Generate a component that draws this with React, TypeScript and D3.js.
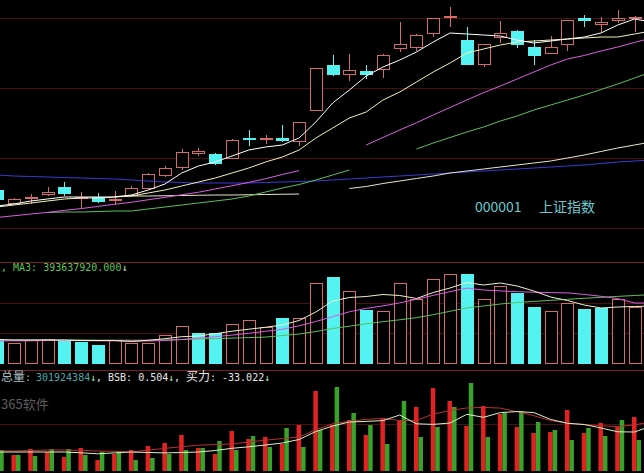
import React from "react";
import * as d3 from "d3";

const WIDTH = 644;
const HEIGHT = 473;

// Daily candles of 上证指数 (index points)
const opens = [2080, 1976, 2016, 2048, 2104, 2020, 2024, 2004, 2040, 2096, 2200, 2264, 2376, 2368, 2336, 2500, 2492, 2500, 2472, 2720, 3084, 3008, 3032, 3048, 3212, 3228, 3340, 3468, 3280, 3088, 3308, 3356, 3220, 3172, 3252, 3452, 3404, 3436, 3452];
const highs = [2096, 2016, 2048, 2104, 2144, 2064, 2056, 2072, 2112, 2216, 2268, 2408, 2416, 2380, 2488, 2560, 2520, 2600, 2628, 3060, 3160, 3168, 3080, 3164, 3424, 3328, 3456, 3544, 3384, 3252, 3432, 3364, 3284, 3312, 3440, 3484, 3460, 3520, 3468];
const lows = [1984, 1968, 1968, 2032, 2032, 1936, 1976, 1960, 2032, 2088, 2184, 2240, 2352, 2276, 2332, 2432, 2448, 2464, 2432, 2716, 2992, 2952, 2968, 2976, 3184, 3192, 3304, 3384, 3080, 3064, 3256, 3216, 3084, 3168, 3192, 3384, 3336, 3416, 3344];
const closes = [2000, 2008, 2024, 2064, 2048, 2028, 1984, 2012, 2100, 2208, 2256, 2384, 2392, 2288, 2484, 2480, 2496, 2472, 2624, 3056, 3000, 3044, 3004, 3160, 3248, 3324, 3452, 3476, 3084, 3248, 3340, 3244, 3148, 3228, 3436, 3428, 3420, 3452, 3464];

// Moving averages of the index (null where the line is not drawn)
const ma5 = [1952, 1968, 1992, 2008, 2024, 2024, 2024, 2024, 2040, 2080, 2128, 2216, 2272, 2304, 2352, 2400, 2424, 2440, 2496, 2624, 2776, 2880, 2992, 3064, 3120, 3184, 3264, 3336, 3328, 3320, 3312, 3280, 3256, 3272, 3288, 3304, 3336, 3400, 3448, 3424];
const ma10 = [1944, 1960, 1976, 1992, 2008, 2016, 2016, 2024, 2032, 2056, 2080, 2112, 2144, 2176, 2216, 2256, 2304, 2344, 2400, 2496, 2576, 2656, 2704, 2800, 2864, 2944, 3024, 3096, 3176, 3208, 3240, 3264, 3272, 3280, 3288, 3296, 3304, 3304, 3328, 3352];
const ma20 = [1860, 1874, 1888, 1901, 1917, 1931, 1949, 1966, 1982, 2002, 2021, 2042, 2062, 2088, 2114, 2141, 2170, 2204, 2235, null, null, null, 2440, 2500, 2560, 2618, 2680, 2740, 2800, 2859, 2912, 2968, 3024, 3080, 3128, 3156, 3192, 3224, 3260, 3296];
const ma30 = [null, null, null, 1900, 1904, 1904, 1908, 1912, 1912, 1928, 1944, 1960, 1976, 1992, 2008, 2032, 2064, 2096, 2124, 2160, 2200, 2240, null, null, null, 2408, 2456, 2500, 2544, 2584, 2632, 2672, 2720, 2760, 2800, 2840, 2884, 2928, 2976, 3024];
const ma60 = [null, null, null, null, null, null, null, 2028, 2032, 2032, 2034, 2036, 2038, 2040, 2040, 2042, 2044, 2046, 2048, null, null, 2092, 2108, 2132, 2152, 2172, 2192, 2216, 2232, 2248, 2264, 2280, 2296, 2312, 2336, 2360, 2388, 2416, 2440, 2464];
const ma120 = [2200, 2192, 2188, 2184, 2180, 2176, 2172, 2168, 2160, 2152, 2144, 2140, 2136, 2136, 2136, 2136, 2140, 2144, 2148, 2152, 2160, 2168, 2176, 2184, 2192, 2200, 2208, 2216, 2224, 2232, 2240, 2248, 2256, 2264, 2272, 2280, 2292, 2304, 2312, 2320];

// Turnover (million shares) and whether the bar is drawn as a rising day
const volumes = [247, 207, 240, 247, 233, 223, 190, 240, 213, 213, 290, 380, 313, 307, 400, 440, 373, 463, 457, 807, 873, 730, 540, 533, 813, 647, 850, 900, 897, 650, 783, 707, 573, 533, 613, 547, 557, 647, 567];
const volumeUp = [0, 1, 1, 1, 0, 0, 0, 1, 1, 1, 1, 1, 0, 0, 1, 1, 1, 0, 1, 1, 0, 1, 0, 1, 1, 1, 1, 1, 0, 1, 1, 0, 0, 1, 1, 0, 0, 1, 1];
const volMa5 = [245, 240, 240, 240, 240, 235, 235, 235, 225, 237, 253, 273, 280, 303, 328, 348, 367, 390, 435, 520, 630, 665, 675, 695, 685, 655, 715, 760, 815, 790, 810, 780, 730, 670, 635, 590, 560, 570, 575, 580];
const volMa10 = [230, 232, 232, 235, 235, 233, 232, 232, 230, 230, 235, 245, 260, 273, 289, 307, 327, 347, 382, 425, 473, 522, 556, 581, 611, 647, 686, 723, 759, 740, 731, 723, 718, 714, 711, 696, 677, 654, 610, 610];
const volMa20 = [240, 240, 240, 240, 240, 240, 238, 238, 238, 238, 240, 245, 250, 254, 259, 264, 269, 284, 300, 325, 355, 378, 402, 423, 442, 463, 493, 527, 561, 580, 600, 615, 626, 637, 647, 657, 667, 676, 685, 694];

// Buy / sell strength indicator
const buyBars = [18, 16, 22, 19, 14, 23, 11, 17, 21, 25, 28, 36, 23, 17, 40, 32, 34, 27, 46, 80, 46, 51, 36, 53, 50, 64, 83, 70, 45, 65, 57, 44, 38, 39, 61, 38, 48, 44, 54];
const sellBars = [21, 16, 15, 22, 22, 16, 19, 20, 11, 13, 17, 21, 23, 30, 21, 35, 24, 43, 24, 41, 84, 58, 46, 27, 70, 34, 44, 64, 88, 34, 58, 60, 49, 41, 31, 43, 35, 51, 31];
const buyLine = [20, 20, 20.5, 21, 21, 20.6, 20, 19.6, 19, 21, 22.6, 24.3, 25.8, 26.5, 27, 29, 30.8, 32.4, 34, 41.3, 47.2, 49.7, 51.6, 52.6, 50.5, 50.6, 56.9, 60.5, 63, 63.6, 62.9, 59.3, 55.3, 50.4, 48, 46.4, 45.3, 44.3, 46.2, 49];
const sellLine = [19, 19, 19, 19, 19, 18.2, 17.2, 18.1, 19, 18.5, 18.1, 18.5, 19, 20.5, 22.7, 24.2, 26, 28, 31.5, 39.5, 45, 49, 49.6, 50.4, 56, 47.2, 46.6, 48, 56.7, 53.7, 58.4, 59.4, 58.4, 51.6, 47.7, 46.5, 43, 39.2, 39, 45];

// Grid levels in each pane
const priceGrid = [3456, 2896, 2336, 1776];
const volumeGrid = [610, 310];
const bsbGrid = [47];

const COLORS = {
  up: "#d46a6a",
  down: "#55f2f2",
  grid: "#4a1010",
  border: "#7c1e1e",
  ma5: "#ffffff",
  ma10: "#f4f0b4",
  ma20: "#dc5ee0",
  ma30: "#5cc05c",
  ma60: "#e6e6cc",
  ma120: "#3a3ad8",
  buy: "#e22222",
  sell: "#3aa22a",
};

const MONO = "'DejaVu Sans Mono', monospace";
const CJK = "'Noto Sans CJK SC', sans-serif";

type Series = (number | null)[];

export default function App() {
  const x = d3.scaleLinear().domain([0, 38]).range([-2.8, 634.5]);
  const yPrice = d3.scaleLinear().domain([1600, 3600]).range([250, 0]);
  const yVol = d3.scaleLinear().domain([0, 1000]).range([364, 264]);
  const yBsb = d3.scaleLinear().domain([0, 100]).range([471, 371]);

  const cx = (i: number) => Math.round(x(i));

  const pathOf = (y: d3.ScaleLinear<number, number>, s: Series) =>
    d3
      .line<number | null>()
      .defined((d) => d != null)
      .x((_, i) => x(i))
      .y((d) => y(d as number))(s) || "";

  const hline = (y: number, color: string, key: string) => (
    <line key={key} x1={0} x2={WIDTH} y1={Math.round(y) + 0.5} y2={Math.round(y) + 0.5} stroke={color} strokeWidth={1} />
  );

  const priceLines: [Series, string][] = [
    [ma120, COLORS.ma120],
    [ma60, COLORS.ma60],
    [ma30, COLORS.ma30],
    [ma20, COLORS.ma20],
    [ma10, COLORS.ma10],
    [ma5, COLORS.ma5],
  ];

  const volLines: [Series, string][] = [
    [volMa20, COLORS.ma30],
    [volMa10, COLORS.ma20],
    [volMa5, "#f2f0cc"],
  ];

  // header row of the lower pane, laid out left to right
  const hy = 381;
  const hx = 0;

  return (
    <svg
      width={WIDTH}
      height={HEIGHT}
      style={{ position: "absolute", left: 0, top: 0, display: "block", background: "#000" }}
    >
      <rect x={0} y={0} width={WIDTH} height={HEIGHT} fill="#000" />

      {/* grid and pane borders */}
      {priceGrid.map((p, i) => hline(yPrice(p), COLORS.grid, `pg${i}`))}
      {hline(262, COLORS.border, "b1")}
      {volumeGrid.map((v, i) => hline(yVol(v), COLORS.grid, `vg${i}`))}
      {hline(370, COLORS.border, "b2")}
      {bsbGrid.map((v, i) => hline(yBsb(v), COLORS.grid, `bg${i}`))}

      {/* candles */}
      <g shapeRendering="crispEdges">
        {opens.map((o, i) => {
          const c = closes[i];
          const px = cx(i);
          const yH = Math.round(yPrice(highs[i]));
          const yL = Math.round(yPrice(lows[i]));
          const yO = Math.round(yPrice(o));
          const yC = Math.round(yPrice(c));
          if (c >= o) {
            const top = Math.min(yO, yC);
            const bot = Math.max(yO, yC);
            return (
              <g key={`c${i}`} stroke={COLORS.up} fill="none">
                <line x1={px + 0.5} x2={px + 0.5} y1={yH} y2={top} />
                <line x1={px + 0.5} x2={px + 0.5} y1={bot} y2={yL} />
                <rect x={px - 6 + 0.5} y={top + 0.5} width={12} height={Math.max(bot - top, 1)} fill="#000" />
              </g>
            );
          }
          return (
            <g key={`c${i}`}>
              <line x1={px + 0.5} x2={px + 0.5} y1={yH} y2={yL} stroke={COLORS.down} />
              <rect x={px - 6} y={yO} width={13} height={Math.max(yC - yO, 1)} fill={COLORS.down} />
            </g>
          );
        })}
      </g>

      {/* moving averages */}
      {priceLines.map(([s, color], k) => (
        <path key={`pl${k}`} d={pathOf(yPrice, s)} fill="none" stroke={color} strokeWidth={1} />
      ))}

      <text x={475} y={212} fontFamily={CJK} fontSize={14} fill="#6cc8cc">000001</text>
      <text x={539} y={212} fontFamily={CJK} fontSize={14} fill="#6cc8cc">上证指数</text>

      {/* volume */}
      <g shapeRendering="crispEdges">
        {volumes.map((v, i) => {
          const px = cx(i);
          const top = Math.round(yVol(v));
          const base = Math.round(yVol(0));
          return volumeUp[i] ? (
            <rect key={`v${i}`} x={px - 6 + 0.5} y={top + 0.5} width={12} height={base - top - 1} fill="#000" stroke={COLORS.up} />
          ) : (
            <rect key={`v${i}`} x={px - 6} y={top} width={13} height={base - top} fill={COLORS.down} />
          );
        })}
      </g>
      {volLines.map(([s, color], k) => (
        <path key={`vl${k}`} d={pathOf(yVol, s)} fill="none" stroke={color} strokeWidth={1} />
      ))}

      <text y={271} fontFamily={MONO} fontSize={10}>
        <tspan x={1} fill="#5cc45c">, MA3: 393637920.000</tspan>
        <tspan fill="#d8e8d8">↓</tspan>
      </text>

      {/* buy / sell strength */}
      {buyBars.map((v, i) => (
        <rect key={`bb${i}`} x={x(i) - 2.5} y={yBsb(v)} width={4.5} height={yBsb(0) - yBsb(v)} fill={COLORS.buy} />
      ))}
      {sellBars.map((v, i) => (
        <rect key={`sb${i}`} x={x(i) + 2} y={yBsb(v)} width={4.5} height={yBsb(0) - yBsb(v)} fill={COLORS.sell} />
      ))}
      <path d={pathOf(yBsb, buyLine)} fill="none" stroke="#b83030" strokeWidth={1} />
      <path d={pathOf(yBsb, sellLine)} fill="none" stroke="#d8f0c4" strokeWidth={1} />

      <g>
        <text x={hx + 1} y={hy} fontFamily={CJK} fontSize={12} fill="#a8c0c0">总量</text>
        <text x={hx + 25} y={hy} fontFamily={MONO} fontSize={10} fill="#a8c0c0">:</text>
        <text x={hx + 36} y={hy} fontFamily={MONO} fontSize={10} fill="#48a8a8">301924384</text>
        <text x={hx + 90} y={hy} fontFamily={MONO} fontSize={10} fill="#c0ecc0">↓</text>
        <text x={hx + 96} y={hy} fontFamily={MONO} fontSize={10} fill="#e8e8e8" style={{ whiteSpace: "pre" }}>, BSB: 0.504</text>
        <text x={hx + 168} y={hy} fontFamily={MONO} fontSize={10} fill="#c0ecc0">↓</text>
        <text x={hx + 174} y={hy} fontFamily={MONO} fontSize={10} fill="#e8e8e8">,</text>
        <text x={hx + 186} y={hy} fontFamily={CJK} fontSize={12} fill="#e8e8e8">买力</text>
        <text x={hx + 210} y={hy} fontFamily={MONO} fontSize={10} fill="#e8e8e8" style={{ whiteSpace: "pre" }}>: -33.022</text>
        <text x={hx + 264} y={hy} fontFamily={MONO} fontSize={10} fill="#c0ecc0">↓</text>
      </g>
      <text x={1} y={409} fontFamily={CJK} fontSize={13} fill="#5e5e5e">365软件</text>
    </svg>
  );
}
